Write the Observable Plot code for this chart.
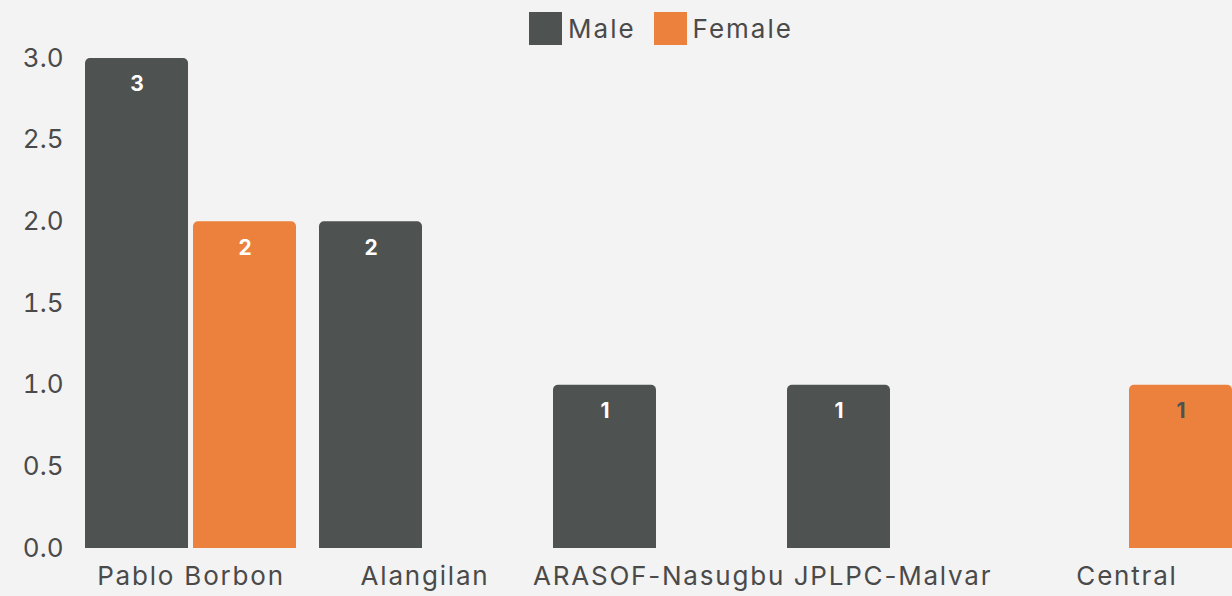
<!DOCTYPE html>
<html>
<head>
<meta charset="utf-8">
<script src="https://cdn.jsdelivr.net/npm/d3@7"></script>
<script src="https://cdn.jsdelivr.net/npm/@observablehq/plot@0.6"></script>
<style>
  html, body { margin: 0; padding: 0; background: #f3f3f3; }
  body { width: 1232px; height: 596px; overflow: hidden; font-family: Inter, "Noto Sans", sans-serif; color: #4a4a4a; }
  #legend { height: 40px; box-sizing: border-box; padding-top: 12px; padding-left: 90px; display: flex; justify-content: center; align-items: flex-start; font-size: 26px; letter-spacing: 2px; }
  .item { display: flex; align-items: center; height: 33px; margin: 0 9px; }
  .sw { width: 33px; height: 33px; margin-right: 6px; }
  .xlab text { letter-spacing: 1.8px; }
</style>
</head>
<body>
<div id="legend"></div>
<div id="chart"></div>
<script>
const campuses = ["Pablo Borbon", "Alangilan", "ARASOF-Nasugbu", "JPLPC-Malvar", "Central"];
const sexes = ["Male", "Female"];
const maleCounts = [3, 2, 1, 1, 0];
const femaleCounts = [2, 0, 0, 0, 1];
const colors = ["#4e5250", "#eb813d"];
const yTicks = [0, 0.5, 1, 1.5, 2, 2.5, 3];

const rows = [];
campuses.forEach((c, i) => {
  rows.push({campus: c, sex: "Male", value: maleCounts[i]});
  rows.push({campus: c, sex: "Female", value: femaleCounts[i]});
});
const data = rows.filter(d => d.value > 0);

const legend = document.getElementById("legend");
sexes.forEach((s, i) => {
  const it = document.createElement("div");
  it.className = "item";
  it.innerHTML = `<div class="sw" style="background:${colors[i]}"></div><span>${s}</span>`;
  legend.appendChild(it);
});

const chart = Plot.plot({
  width: 1232,
  height: 556,
  marginLeft: 84,
  marginRight: 0,
  marginTop: 18,
  marginBottom: 48,
  style: {background: "transparent", fontFamily: "Inter, 'Noto Sans', sans-serif", fontSize: "24px", color: "#4a4a4a"},
  fx: {domain: campuses, paddingInner: 0.1, paddingOuter: 0, label: null},
  x: {domain: sexes, paddingInner: 0.05, paddingOuter: 0, axis: null},
  y: {domain: [0, 3], label: null},
  color: {domain: sexes, range: colors},
  marks: [
    Plot.axisY({ticks: yTicks, tickFormat: d3.format(".1f"), tickSize: 0, tickPadding: 22, label: null, fontSize: 26, fill: "#4a4a4a"}),
    Plot.axisFx({anchor: "bottom", tickSize: 0, tickPadding: 18, label: null, fontSize: 26, fill: "#4a4a4a", className: "xlab"}),
    Plot.barY(data, {fx: "campus", x: "sex", y: "value", fill: "sex", ry1: 5}),
    Plot.text(data, {fx: "campus", x: "sex", y: "value", text: d => String(d.value), dy: 26,
      fill: d => d.campus === "Central" ? "#4e5250" : "white", fontWeight: "bold", fontSize: 21})
  ]
});
document.getElementById("chart").appendChild(chart);
</script>
</body>
</html>
